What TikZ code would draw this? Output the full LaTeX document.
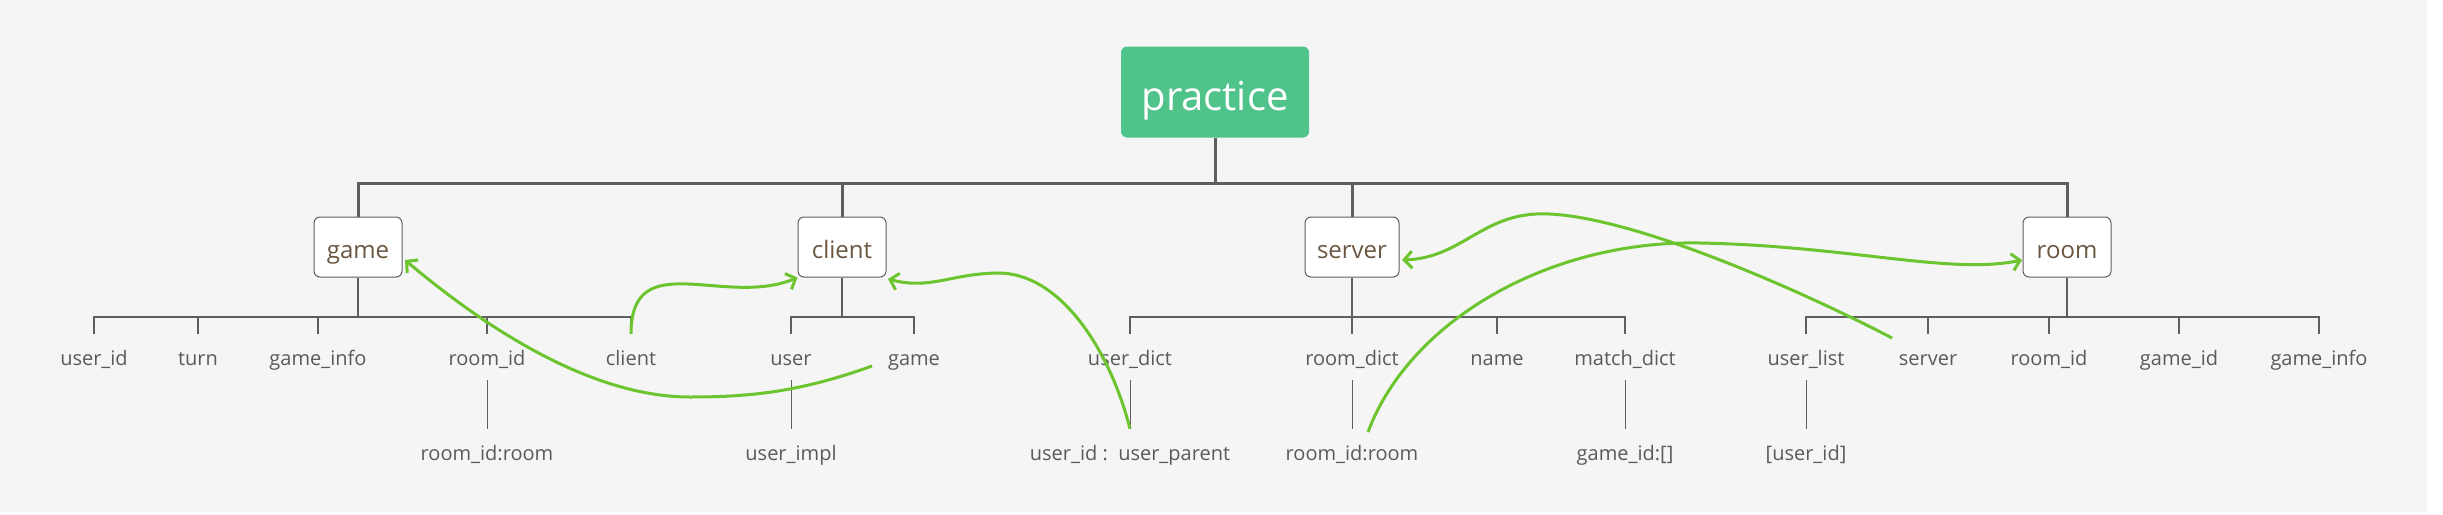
\documentclass[tikz,border=0pt]{standalone}
\usepackage{fontspec}
\setmainfont{Open Sans}
\usetikzlibrary{arrows.meta}
\definecolor{bgc}{HTML}{F5F5F5}
\definecolor{rootc}{HTML}{50C38B}
\definecolor{linec}{HTML}{5E5E5E}
\definecolor{leafc}{HTML}{5A5A5A}
\definecolor{topicc}{HTML}{6B5641}
\definecolor{linkc}{HTML}{6CC52E}
\tikzset{
  rootbox/.style={draw=none, fill=rootc, rounded corners=6pt, minimum width=188pt, minimum height=91pt,
    text=white, font=\fontsize{40}{46}\selectfont, inner sep=0pt, text height=36pt, text depth=0pt},
  topicbox/.style={draw=linec, line width=1pt, fill=white, rounded corners=6pt, minimum width=88pt,
    minimum height=60pt, inner xsep=12pt, inner ysep=0pt, text=topicc, font=\fontsize{24}{28}\selectfont,
    text height=23pt, text depth=0pt},
  leaf/.style={inner sep=0pt, text=leafc, font=\fontsize{20}{24}\selectfont, text height=17pt,
    text depth=1pt, minimum height=46pt},
  trunk/.style={draw=linec, line width=3pt},
  branch/.style={draw=linec, line width=2pt},
  twig/.style={draw=linec, line width=1pt},
  link/.style={draw=linkc, line width=3pt, -{Straight Barb[length=8pt,width=17pt,line width=3pt]}}
}
\begin{document}
\begin{tikzpicture}[x=1pt,y=-1pt]
\useasboundingbox (0,0) rectangle (2443,514);
\fill[white] (0,0) rectangle (2443,514);
\fill[bgc] (0,0) rectangle (2427,512);

% root and main topics
\node[rootbox] (root) at (1215,92) {practice};
\node[topicbox] (game) at (358,247) {game};
\node[topicbox] (client) at (842,247) {client};
\node[topicbox] (server) at (1352,247) {server};
\node[topicbox] (room) at (2067,247) {room};

\coordinate (bus) at (1215,183);
\draw[trunk] (root.south) -- (bus);
\foreach \t in {game,client,server,room} \draw[trunk] (\t.north) |- (bus);

% game children
\node[leaf] (g1) at (94,357) {user\_id};
\node[leaf] (g2) at (198,357) {turn};
\node[leaf] (g3) at (318,357) {game\_info};
\node[leaf] (g4) at (487,357) {room\_id};
\node[leaf] (g5) at (631,357) {client};
\node[leaf] (g4a) at (487,452) {room\_id:room};
\coordinate (gbus) at (358,317);
\draw[branch] (game.south) -- (gbus);
\foreach \c in {g1,g2,g3,g4,g5} \draw[branch] (\c.north) |- (gbus);
\draw[twig] (g4.south) -- (g4a.north);

% client children
\node[leaf] (c1) at (791,357) {user};
\node[leaf] (c2) at (914,357) {game};
\node[leaf] (c1a) at (791,452) {user\_impl};
\coordinate (cbus) at (842,317);
\draw[branch] (client.south) -- (cbus);
\foreach \c in {c1,c2} \draw[branch] (\c.north) |- (cbus);
\draw[twig] (c1.south) -- (c1a.north);

% server children
\node[leaf] (s1) at (1130,357) {user\_dict};
\node[leaf] (s2) at (1352,357) {room\_dict};
\node[leaf] (s3) at (1497,357) {name};
\node[leaf] (s4) at (1625,357) {match\_dict};
\node[leaf] (s1a) at (1130,452) {user\_id :\ \ user\_parent};
\node[leaf] (s2a) at (1352,452) {room\_id:room};
\node[leaf] (s4a) at (1625,452) {game\_id:[]};
\coordinate (sbus) at (1352,317);
\draw[branch] (server.south) -- (sbus);
\foreach \c in {s1,s2,s3,s4} \draw[branch] (\c.north) |- (sbus);
\draw[twig] (s1.south) -- (s1a.north);
\draw[twig] (s2.south) -- (s2a.north);
\draw[twig] (s4.south) -- (s4a.north);

% room children
\node[leaf] (r1) at (1806,357) {user\_list};
\node[leaf] (r2) at (1928,357) {server};
\node[leaf] (r3) at (2049,357) {room\_id};
\node[leaf] (r4) at (2179,357) {game\_id};
\node[leaf] (r5) at (2319,357) {game\_info};
\node[leaf] (r1a) at (1806,452) {[user\_id]};
\coordinate (rbus) at (2067,317);
\draw[branch] (room.south) -- (rbus);
\foreach \c in {r1,r2,r3,r4,r5} \draw[branch] (\c.north) |- (rbus);
\draw[twig] (r1.south) -- (r1a.north);

% green links
\coordinate (l2s) at (872,366);
\coordinate (l2e) at (405,260);
\coordinate (l4s) at (1892,338);
\coordinate (l4e) at (1402,260);
\coordinate (l5s) at (1368,432);
\coordinate (l5e) at (2022,260);
\coordinate (l3e) at (888,279);

\draw[link] (g5.north) .. controls (631,245) and (725,308) .. (client.south west);
\draw[link] (l2s) .. controls (800,392) and (750,397) .. (690,397)
                  .. controls (600,397) and (500,340) .. (l2e);
\draw[link] (s1a.north) .. controls (1110,350) and (1060,272) .. (997,273)
                        .. controls (950,274) and (930,290) .. (l3e);
\draw[link] (l4s) .. controls (1800,290) and (1620,210) .. (1536,214)
                  .. controls (1480,217) and (1460,258) .. (l4e);
\draw[link] (l5s) .. controls (1410,320) and (1550,240) .. (1700,243)
                  .. controls (1850,246) and (1950,275) .. (l5e);
\end{tikzpicture}
\end{document}
